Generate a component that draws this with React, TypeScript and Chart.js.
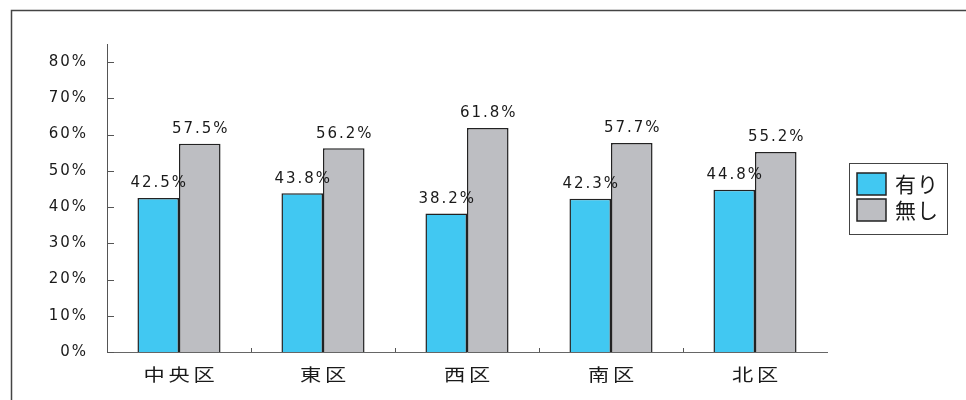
import React, { useEffect, useRef } from "react";
import { Chart, registerables } from "chart.js";

Chart.register(...registerables);

const categories = ["中央区", "東区", "西区", "南区", "北区"];
const seriesNames = ["有り", "無し"];
const yesValues = [42.5, 43.8, 38.2, 42.3, 44.8];
const noValues = [57.5, 56.2, 61.8, 57.7, 55.2];
const yTicks = [0, 10, 20, 30, 40, 50, 60, 70, 80];
const yMax = 85;

const blue = "#41C8F2";
const grey = "#BDBEC2";
const ink = "#1a1a1a";

const decorPlugin = {
  id: "decor",
  beforeDraw(chart: any) {
    const ctx = chart.ctx;
    ctx.save();
    ctx.fillStyle = "#ffffff";
    ctx.fillRect(0, 0, chart.width, chart.height);
    ctx.strokeStyle = "#444";
    ctx.lineWidth = 1.5;
    ctx.beginPath();
    ctx.moveTo(11.5, chart.height);
    ctx.lineTo(11.5, 10.5);
    ctx.lineTo(chart.width, 10.5);
    ctx.stroke();
    ctx.restore();
    ctx.letterSpacing = "2px";
  },
  afterDatasetsDraw(chart: any) {
    const ctx = chart.ctx;
    const xs = chart.scales.x;
    const ys = chart.scales.y;
    const area = chart.chartArea;
    ctx.save();
    // inward tick marks on y axis
    ctx.strokeStyle = "#555";
    ctx.lineWidth = 1;
    ctx.beginPath();
    yTicks.forEach((v) => {
      const y = Math.round(ys.getPixelForValue(v)) + 0.5;
      ctx.moveTo(area.left, y);
      ctx.lineTo(area.left + 7, y);
    });
    // inward tick marks on x axis between categories
    for (let i = 1; i < categories.length; i++) {
      const x = Math.round((xs.getPixelForValue(i - 1) + xs.getPixelForValue(i)) / 2) + 0.5;
      ctx.moveTo(x, area.bottom);
      ctx.lineTo(x, area.bottom - 4);
    }
    ctx.stroke();

    // data labels
    ctx.fillStyle = ink;
    ctx.font = '15px "DejaVu Sans"';
    ctx.letterSpacing = "2px";
    ctx.textAlign = "center";
    ctx.textBaseline = "middle";
    chart.data.datasets.forEach((ds: any, di: number) => {
      const meta = chart.getDatasetMeta(di);
      meta.data.forEach((bar: any, j: number) => {
        ctx.fillText(ds.data[j].toFixed(1) + "%", bar.x + 1, bar.y - 14.5);
      });
    });

    // category labels (slightly wide glyphs, as in the reference)
    ctx.font = '17px "Noto Sans CJK JP"';
    ctx.letterSpacing = "3px";
    categories.forEach((c, i) => {
      ctx.save();
      ctx.translate(xs.getPixelForValue(i) + 2, area.bottom + 23);
      ctx.scale(1.25, 1);
      ctx.fillText(c, 0, 0);
      ctx.restore();
    });

    // legend
    ctx.letterSpacing = "1px";
    ctx.strokeStyle = "#444";
    ctx.lineWidth = 1;
    ctx.strokeRect(849.5, 163.5, 98, 71);
    const colors = [blue, grey];
    const rows = [173, 199];
    ctx.font = '21px "Noto Sans CJK JP"';
    ctx.textAlign = "left";
    seriesNames.forEach((name, i) => {
      ctx.fillStyle = colors[i];
      ctx.fillRect(857, rows[i], 29, 22);
      ctx.strokeStyle = "#222";
      ctx.lineWidth = 1.5;
      ctx.strokeRect(857, rows[i], 29, 22);
      ctx.fillStyle = ink;
      ctx.fillText(name, 895, rows[i] + 11);
    });
    ctx.restore();
  },
};

export default function App() {
  const ref = useRef<HTMLCanvasElement | null>(null);
  useEffect(() => {
    if (!ref.current) return;
    const chart = new Chart(ref.current, {
      type: "bar",
      data: {
        labels: categories,
        datasets: [
          {
            label: seriesNames[0],
            data: yesValues,
            backgroundColor: blue,
            borderColor: "#222",
            borderWidth: 1.5,
            categoryPercentage: 0.577,
            barPercentage: 1,
          },
          {
            label: seriesNames[1],
            data: noValues,
            backgroundColor: grey,
            borderColor: "#222",
            borderWidth: 1.5,
            categoryPercentage: 0.577,
            barPercentage: 1,
          },
        ],
      },
      options: {
        responsive: false,
        animation: false,
        events: [],
        layout: { padding: { top: 44, right: 139, left: 0, bottom: 0 } },
        plugins: { legend: { display: false }, tooltip: { enabled: false } },
        scales: {
          x: {
            grid: { display: false },
            border: { display: true, color: "#666", width: 1 },
            ticks: { display: false },
            afterFit: (s: any) => {
              s.height = 48;
            },
          },
          y: {
            min: 0,
            max: yMax,
            grid: { display: false },
            border: { display: true, color: "#555", width: 1 },
            afterBuildTicks: (s: any) => {
              s.ticks = yTicks.map((v) => ({ value: v }));
            },
            ticks: {
              color: ink,
              padding: 11,
              font: { family: "DejaVu Sans", size: 15 },
              callback: (v: any) => v + "%",
            },
            afterFit: (s: any) => {
              s.width = 107;
            },
          },
        },
      },
      plugins: [decorPlugin],
    });
    return () => chart.destroy();
  }, []);
  return (
    <div style={{ position: "absolute", left: 0, top: 0, width: 966, height: 400 }}>
      <canvas ref={ref} width={966} height={400} style={{ display: "block" }} />
    </div>
  );
}
